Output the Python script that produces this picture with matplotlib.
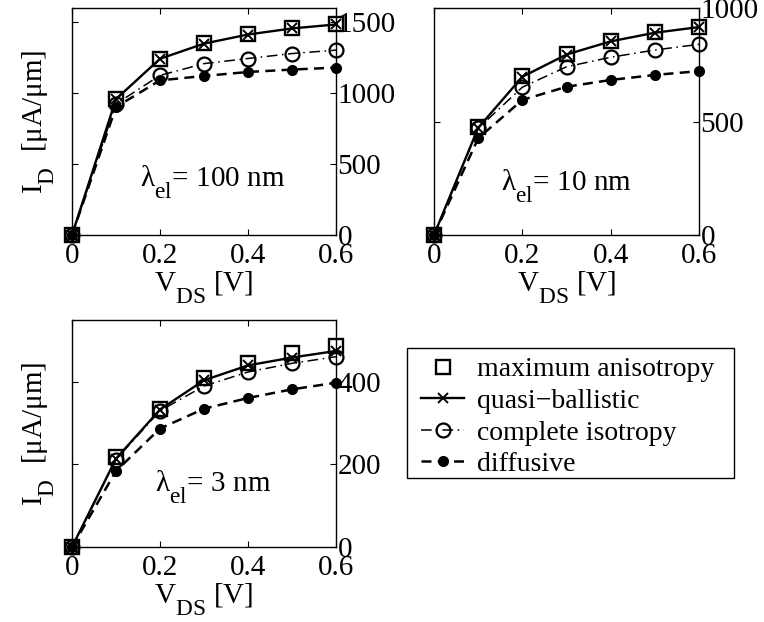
import numpy as np
import matplotlib
matplotlib.use('Agg')
import matplotlib.pyplot as plt
from matplotlib.patches import Rectangle

plt.rcParams['font.family'] = ['Liberation Serif', 'DejaVu Serif']
plt.rcParams['mathtext.fontset'] = 'custom'
plt.rcParams['mathtext.rm'] = 'Liberation Serif'
plt.rcParams['mathtext.it'] = 'Liberation Serif:italic'

# matlab style subscripts: a bit bigger and lower than mathtext default
try:
    import matplotlib._mathtext as _mt
    _mt.SHRINK_FACTOR = 0.8
    _mt.FontConstantsBase.sub1 = 0.9
except Exception:
    pass

# drain voltage V_DS [V]
vds = [0, 0.1, 0.2, 0.3, 0.4, 0.5, 0.6]

# drain current I_D [uA/um], lambda_el = 100 nm
lam100_aniso = [0, 960, 1244, 1350, 1414, 1457, 1485]
lam100_qb = [0, 958, 1242, 1349, 1413, 1456, 1484]
lam100_iso = [0, 924, 1125, 1208, 1244, 1279, 1303]
lam100_diff = [0, 902, 1090, 1121, 1149, 1166, 1180]

# lambda_el = 10 nm
lam10_aniso = [0, 477, 700, 797, 856, 893, 918]
lam10_qb = [0, 472, 697, 795, 853, 891, 916]
lam10_iso = [0, 470, 651, 741, 783, 815, 840]
lam10_diff = [0, 426, 595, 653, 683, 705, 722]

# lambda_el = 3 nm
lam3_aniso = [0, 218, 335, 410, 445, 469, 487]
lam3_qb = [0, 214, 333, 404, 440, 459, 475]
lam3_iso = [0, 212, 330, 390, 424, 445, 461]
lam3_diff = [0, 184, 287, 335, 361, 382, 398]

labels = ['maximum anisotropy', 'quasi\u2212ballistic', 'complete isotropy', 'diffusive']

panels = [
    (lam100_aniso, lam100_qb, lam100_iso, lam100_diff, 1600, [0, 500, 1000, 1500], '100', 0.32, 375),
    (lam10_aniso, lam10_qb, lam10_iso, lam10_diff, 1000, [0, 500, 1000], '10', 0.30, 215),
    (lam3_aniso, lam3_qb, lam3_iso, lam3_diff, 550, [0, 200, 400], '3', 0.32, 145),
]

W, H = 764, 622
fig = plt.figure(figsize=(W / 100, H / 100), dpi=100)
boxes = [(72, 8, 264, 227), (434, 8, 265, 227), (72, 320, 264, 227)]

FS = 21
handles = None
for (an, qb, iso, dif, ytop, yt, lam, tx, ty), (x0, y0, w, h) in zip(panels, boxes):
    ax = fig.add_axes([x0 / W, 1 - (y0 + h) / H, w / W, h / H])
    h1, = ax.plot(vds, an, linestyle='none', marker='s', ms=9.5, mfc='none',
                  mec='k', mew=1.7, clip_on=False, zorder=3)
    h2, = ax.plot(vds, qb, '-', color='k', lw=1.7, marker='x', ms=7, mew=1.4,
                  clip_on=False, zorder=4)
    h3, = ax.plot(vds, iso, color='k', lw=1.1, linestyle=(0, (7, 3, 1, 3)),
                  marker='o', ms=10, mfc='none', mec='k', mew=1.6, clip_on=False, zorder=3)
    h4, = ax.plot(vds, dif, color='k', lw=1.8, linestyle=(0, (4, 2.5)),
                  marker='o', ms=7, mfc='k', mec='k', clip_on=False, zorder=3)
    if handles is None:
        handles = [h1, h2, h3, h4]
    ax.set_xlim(0, 0.6)
    ax.set_ylim(0, ytop)
    ax.set_xticks([0, 0.2, 0.4, 0.6])
    ax.set_xticklabels(['0', '0.2', '0.4', '0.6'])
    ax.set_yticks(yt)
    ax.tick_params(direction='in', length=4, width=0.8, top=True, right=True,
                   left=True, labelleft=False, labelright=True, labelsize=FS)
    ax.tick_params(axis='x', pad=6)
    ax.tick_params(axis='y', pad=1)
    for s in ax.spines.values():
        s.set_linewidth(1.0)
    ax.set_xlabel(r'V$_{\rm DS}$ [V]', fontsize=FS, labelpad=0)
    if x0 < 100:
        ax.set_ylabel(r'I$_{\rm D}$  [μA/μm]', fontsize=FS, labelpad=11)
    ax.text(tx, ty, r'λ$_{\rm el}$= ' + lam + ' nm', fontsize=FS, ha='center', va='center')

leg = fig.legend(handles, labels, loc='upper left', bbox_to_anchor=(421 / W, 1 - 357 / H),
                 fontsize=20, frameon=False, borderaxespad=0, borderpad=0,
                 handlelength=1.55, handletextpad=0.45, labelspacing=0.22)

# legend box
fig.patches.append(Rectangle((407 / W, 1 - 478 / H), 327 / W, 130 / H, transform=fig.transFigure,
                             fill=False, edgecolor='k', lw=1.0))

fig.savefig('out.png', dpi=100)
